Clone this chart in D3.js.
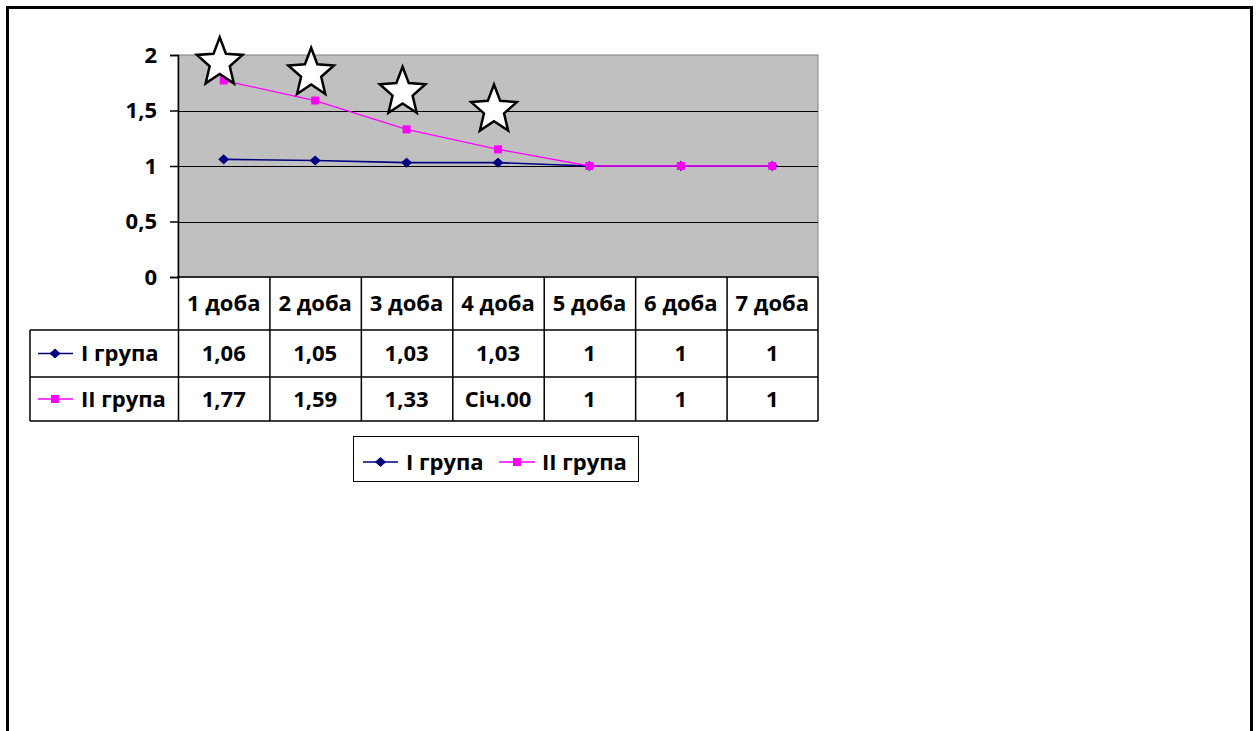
<!DOCTYPE html>
<html>
<head>
<meta charset="utf-8">
<script src="https://cdn.jsdelivr.net/npm/d3@7"></script>
<style>
  html, body { margin: 0; padding: 0; background: #fff; }
  svg { display: block; }
  text { font-family: "Open Sans", Lato, sans-serif; font-weight: bold; fill: #000; }
</style>
</head>
<body>
<svg id="chart" width="1259" height="731"></svg>
<script>
// Categories (days) and series values
const days = ["1 доба", "2 доба", "3 доба", "4 доба", "5 доба", "6 доба", "7 доба"];
const group1Name = "I група";
const group2Name = "II група";
const group1 = [1.06, 1.05, 1.03, 1.03, 1, 1, 1];
const group2 = [1.77, 1.59, 1.33, 1.15, 1, 1, 1];
// Cell texts of the data table under the plot
const group1Labels = ["1,06", "1,05", "1,03", "1,03", "1", "1", "1"];
const group2Labels = ["1,77", "1,59", "1,33", "Січ.00", "1", "1", "1"];
// Value axis ticks
const yTicks = [0, 0.5, 1, 1.5, 2];
const yTickLabels = ["0", "0,5", "1", "1,5", "2"];
// Significance stars: day index and height on the value scale
const starDays = [0, 1, 2, 3];
const starLevels = [1.93, 1.835, 1.665, 1.505];

const FONT_SIZE = 22;
const svg = d3.select("#chart");

// Outer frame (runs off the bottom of the page)
svg.append("rect")
  .attr("x", 7.5).attr("y", 7.5)
  .attr("width", 1244).attr("height", 800)
  .attr("fill", "none").attr("stroke", "#000").attr("stroke-width", 3);

const plot = { left: 178, right: 818, top: 55, bottom: 277 };

const x = d3.scaleBand().domain(days).range([plot.left, plot.right]);
const y = d3.scaleLinear().domain([0, 2]).range([plot.bottom, plot.top]);

// Plot area background
svg.append("rect")
  .attr("x", plot.left).attr("y", plot.top)
  .attr("width", plot.right - plot.left).attr("height", plot.bottom - plot.top)
  .attr("fill", "#c0c0c0").attr("stroke", "#808080").attr("stroke-width", 1);

// Horizontal gridlines
svg.append("g")
  .selectAll("line")
  .data(yTicks.filter(t => t > 0 && t < 2))
  .join("line")
  .attr("x1", plot.left).attr("x2", plot.right)
  .attr("y1", d => Math.round(y(d)) + 0.5).attr("y2", d => Math.round(y(d)) + 0.5)
  .attr("stroke", "#000").attr("stroke-width", 1);

// Value axis
const yAxis = d3.axisLeft(y)
  .tickValues(yTicks)
  .tickFormat((d, i) => yTickLabels[i])
  .tickSize(8)
  .tickPadding(13);
const yg = svg.append("g")
  .attr("transform", `translate(${plot.left},0)`)
  .call(yAxis);
yg.select(".domain").attr("stroke", "#000").attr("stroke-width", 1.5);
yg.selectAll(".tick line").attr("stroke", "#000").attr("stroke-width", 1.5);
yg.selectAll(".tick text")
  .attr("font-size", FONT_SIZE)
  .attr("font-family", "'Open Sans', sans-serif")
  .attr("font-weight", "bold")
  .attr("fill", "#000");

// Series lines and markers
const cx = d => x(d) + x.bandwidth() / 2;
const line = d3.line().x((d, i) => cx(days[i])).y(d => y(d));

const series = [
  { name: group1Name, values: group1, color: "#000080", marker: "diamond" },
  { name: group2Name, values: group2, color: "#ff00ff", marker: "square" }
];

function drawMarker(sel, type, color) {
  if (type === "diamond") {
    sel.append("path")
      .attr("d", "M0,-4.5L5,0L0,4.5L-5,0Z")
      .attr("fill", color).attr("stroke", color);
  } else {
    sel.append("rect")
      .attr("x", -4).attr("y", -4).attr("width", 8).attr("height", 8)
      .attr("fill", color);
  }
}

series.forEach(s => {
  svg.append("path")
    .datum(s.values)
    .attr("d", line)
    .attr("fill", "none")
    .attr("stroke", s.color)
    .attr("stroke-width", s.marker === "diamond" ? 1.6 : 1.3);
  svg.append("g")
    .selectAll("g")
    .data(s.values)
    .join("g")
    .attr("transform", (d, i) => `translate(${cx(days[i])},${y(d)})`)
    .each(function () { drawMarker(d3.select(this), s.marker, s.color); });
});

// Five-pointed star outline, slightly taller than wide
function starPath(rx, ry, innerRatio) {
  const pts = d3.range(10).map(k => {
    const a = -Math.PI / 2 + k * Math.PI / 5;
    const f = k % 2 === 0 ? 1 : innerRatio;
    return [Math.cos(a) * rx * f, Math.sin(a) * ry * f];
  });
  return "M" + pts.map(p => p.join(",")).join("L") + "Z";
}
const starD = starPath(24, 25.5, 0.44);
svg.append("g")
  .selectAll("path")
  .data(starDays)
  .join("path")
  .attr("d", starD)
  .attr("transform", (d, i) => `translate(${cx(days[d]) - 4},${y(starLevels[i])})`)
  .attr("fill", "#fff").attr("stroke", "#000").attr("stroke-width", 2.5)
  .attr("stroke-linejoin", "miter");

// Data table
const table = { labelLeft: 30, headerBottom: 330, row1Bottom: 377, row2Bottom: 421 };
const tg = svg.append("g");
const tableStroke = "#000";

// column separators
days.forEach(d => {
  tg.append("line")
    .attr("x1", x(d) + 0.5).attr("x2", x(d) + 0.5)
    .attr("y1", plot.bottom).attr("y2", table.row2Bottom)
    .attr("stroke", tableStroke).attr("stroke-width", 1.5);
});
tg.append("line")
  .attr("x1", plot.right).attr("x2", plot.right)
  .attr("y1", plot.bottom).attr("y2", table.row2Bottom)
  .attr("stroke", tableStroke).attr("stroke-width", 1.5);
// horizontal rules
[[plot.left, plot.bottom], [table.labelLeft, table.headerBottom], [table.labelLeft, table.row1Bottom], [table.labelLeft, table.row2Bottom]]
  .forEach(([x0, yy]) => {
    tg.append("line")
      .attr("x1", x0).attr("x2", plot.right)
      .attr("y1", yy).attr("y2", yy)
      .attr("stroke", tableStroke).attr("stroke-width", 1.5);
  });
tg.append("line")
  .attr("x1", table.labelLeft).attr("x2", table.labelLeft)
  .attr("y1", table.headerBottom).attr("y2", table.row2Bottom)
  .attr("stroke", tableStroke).attr("stroke-width", 1.5);

// header labels
tg.selectAll("text.head")
  .data(days)
  .join("text")
  .attr("class", "head")
  .attr("x", d => cx(d))
  .attr("y", (plot.bottom + table.headerBottom) / 2)
  .attr("dy", "0.35em")
  .attr("text-anchor", "middle")
  .attr("font-size", FONT_SIZE)
  .text(d => d);

// rows
const rows = [
  { s: series[0], labels: group1Labels, top: table.headerBottom, bottom: table.row1Bottom },
  { s: series[1], labels: group2Labels, top: table.row1Bottom, bottom: table.row2Bottom }
];
rows.forEach(r => {
  const my = (r.top + r.bottom) / 2;
  tg.append("line")
    .attr("x1", 38).attr("x2", 73).attr("y1", my).attr("y2", my)
    .attr("stroke", r.s.color).attr("stroke-width", 1.5);
  drawMarker(tg.append("g").attr("transform", `translate(55,${my})`), r.s.marker, r.s.color);
  tg.append("text")
    .attr("x", 81).attr("y", my).attr("dy", "0.35em")
    .attr("font-size", FONT_SIZE)
    .text(r.s.name);
  tg.selectAll(null)
    .data(r.labels)
    .join("text")
    .attr("x", (d, i) => cx(days[i]))
    .attr("y", my).attr("dy", "0.35em")
    .attr("text-anchor", "middle")
    .attr("font-size", FONT_SIZE)
    .text(d => d);
});

// Legend
const lg = svg.append("g");
lg.append("rect")
  .attr("x", 353.5).attr("y", 436.5).attr("width", 285).attr("height", 45)
  .attr("fill", "#fff").attr("stroke", "#000").attr("stroke-width", 1);
const legendItems = [
  { s: series[0], x0: 363, x1: 398, tx: 406 },
  { s: series[1], x0: 499, x1: 535, tx: 542 }
];
legendItems.forEach(it => {
  const ly = 462;
  lg.append("line")
    .attr("x1", it.x0).attr("x2", it.x1).attr("y1", ly).attr("y2", ly)
    .attr("stroke", it.s.color).attr("stroke-width", 1.5);
  drawMarker(lg.append("g").attr("transform", `translate(${(it.x0 + it.x1) / 2},${ly})`), it.s.marker, it.s.color);
  lg.append("text")
    .attr("x", it.tx).attr("y", ly).attr("dy", "0.35em")
    .attr("font-size", FONT_SIZE)
    .text(it.s.name);
});
</script>
</body>
</html>
